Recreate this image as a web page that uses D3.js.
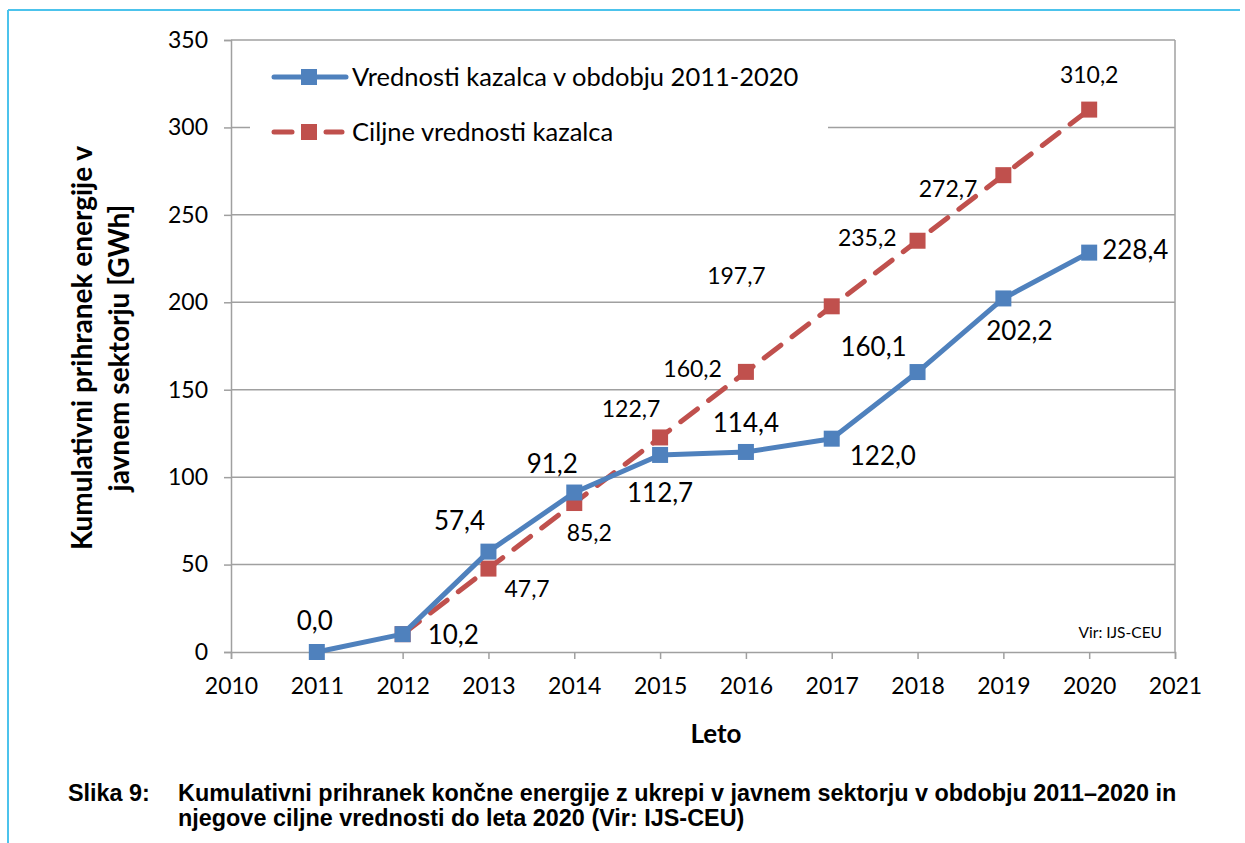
<!DOCTYPE html>
<html>
<head>
<meta charset="utf-8">
<script src="https://cdn.jsdelivr.net/npm/d3@7"></script>
<style>
  body { margin: 0; background: #fff; }
  svg { display: block; }
</style>
</head>
<body>
<svg id="chart" width="1245" height="843"></svg>
<script>
const years = [2011, 2012, 2013, 2014, 2015, 2016, 2017, 2018, 2019, 2020];
const actualValues = [0.0, 10.2, 57.4, 91.2, 112.7, 114.4, 122.0, 160.1, 202.2, 228.4];
const targetYears = [2012, 2013, 2014, 2015, 2016, 2017, 2018, 2019, 2020];
const targetValues = [10.2, 47.7, 85.2, 122.7, 160.2, 197.7, 235.2, 272.7, 310.2];
const xTicks = [2010, 2011, 2012, 2013, 2014, 2015, 2016, 2017, 2018, 2019, 2020, 2021];
const yTicks = [0, 50, 100, 150, 200, 250, 300, 350];
const seriesNames = ["Vrednosti kazalca v obdobju 2011-2020", "Ciljne vrednosti kazalca"];

// label placement (dx, dy from point, anchor)
const actualLabelPos = [
    [-2, -22, "middle"], [25, 10, "start"], [-29, -22, "middle"], [-22, -20, "middle"],
    [0, 47, "middle"], [0, -20, "middle"], [18, 26, "start"], [-44, -16, "middle"],
    [16, 42, "middle"], [13, 6, "start"]
];
const targetLabelPos = [
    null, [16, 28, "start"], [15, 38, "middle"], [-29, -20, "middle"], [-24, 5, "end"],
    [-66, -22, "end"], [-21, 5, "end"], [-26, 22, "end"], [0, -27, "middle"]
];

const blue = "#4f81bd", red = "#c0504d", grid = "#a0a0a0";
const fmt = v => v.toFixed(1).replace(".", ",");

const svg = d3.select("#chart");
const W = 1245, H = 843;
const plot = {left: 231, top: 40, right: 1175, bottom: 652};

// outer frame
svg.append("line").attr("x1", 8).attr("y1", 10).attr("x2", 1240).attr("y2", 10).attr("stroke", "#4cc3ec").attr("stroke-width", 2);
svg.append("line").attr("x1", 8).attr("y1", 10).attr("x2", 8).attr("y2", H).attr("stroke", "#4cc3ec").attr("stroke-width", 2);

const x = d3.scaleLinear().domain([2010, 2021]).range([plot.left, plot.right]);
const y = d3.scaleLinear().domain([0, 350]).range([plot.bottom, plot.top]);

// gridlines
svg.append("g").selectAll("line").data(yTicks.filter(t => t > 0)).enter().append("line")
    .attr("x1", plot.left).attr("x2", plot.right)
    .attr("y1", d => y(d)).attr("y2", d => y(d))
    .attr("stroke", grid).attr("stroke-width", 1.5);
svg.append("line").attr("x1", plot.right).attr("x2", plot.right).attr("y1", plot.top).attr("y2", plot.bottom)
    .attr("stroke", grid).attr("stroke-width", 1.5);

// axes
const yAxis = svg.append("g").attr("transform", `translate(${plot.left},0)`)
    .call(d3.axisLeft(y).tickValues(yTicks).tickSize(7).tickPadding(16).tickFormat(d3.format("d")));
const xAxis = svg.append("g").attr("transform", `translate(0,${plot.bottom})`)
    .call(d3.axisBottom(x).tickValues(xTicks).tickSize(7).tickPadding(19).tickFormat(d3.format("d")));
[xAxis, yAxis].forEach(a => {
    a.select(".domain").attr("stroke", grid).attr("stroke-width", 1.5);
    a.selectAll(".tick line").attr("stroke", grid).attr("stroke-width", 1.5);
    a.selectAll("text").attr("font-family", "Lato, sans-serif").attr("font-size", 23).attr("fill", "#000");
});

// axis titles
const titleFont = {family: "Lato, sans-serif", size: 28};
svg.append("text").attr("transform", "translate(92,348) rotate(-90)").attr("text-anchor", "middle")
    .attr("font-family", titleFont.family).attr("font-weight", "bold").attr("font-size", titleFont.size)
    .text("Kumulativni prihranek energije v");
svg.append("text").attr("transform", "translate(129,348) rotate(-90)").attr("text-anchor", "middle")
    .attr("font-family", titleFont.family).attr("font-weight", "bold").attr("font-size", titleFont.size)
    .text("javnem sektorju [GWh]");
svg.append("text").attr("x", 716).attr("y", 743).attr("text-anchor", "middle")
    .attr("font-family", titleFont.family).attr("font-weight", "bold").attr("font-size", 26)
    .text("Leto");

// legend background
svg.append("rect").attr("x", 250).attr("y", 50).attr("width", 578).attr("height", 105).attr("fill", "#fff");

const line = d3.line().x(d => x(d[0])).y(d => y(d[1]));
const targetData = targetYears.map((t, i) => [t, targetValues[i]]);
const actualData = years.map((t, i) => [t, actualValues[i]]);

// target series
svg.append("path").datum(targetData).attr("d", line).attr("fill", "none").attr("stroke", red)
    .attr("stroke-width", 5).attr("stroke-dasharray", "21,14").attr("stroke-linecap", "round");
svg.append("g").selectAll("rect").data(targetData).enter().append("rect")
    .attr("x", d => x(d[0]) - 8).attr("y", d => y(d[1]) - 8).attr("width", 16).attr("height", 16).attr("fill", red);

// actual series
svg.append("path").datum(actualData).attr("d", line).attr("fill", "none").attr("stroke", blue)
    .attr("stroke-width", 5).attr("stroke-linejoin", "round");
svg.append("g").selectAll("rect").data(actualData).enter().append("rect")
    .attr("x", d => x(d[0]) - 8).attr("y", d => y(d[1]) - 8).attr("width", 16).attr("height", 16).attr("fill", blue);

// data labels
svg.append("g").selectAll("text").data(targetData).enter()
    .filter((d, i) => targetLabelPos[i])
    .append("text")
    .attr("x", d => x(d[0]) + targetLabelPos[targetData.indexOf(d)][0])
    .attr("y", d => y(d[1]) + targetLabelPos[targetData.indexOf(d)][1])
    .attr("text-anchor", d => targetLabelPos[targetData.indexOf(d)][2])
    .attr("font-family", "Lato, sans-serif").attr("font-size", 23)
    .text(d => fmt(d[1]));
svg.append("g").selectAll("text").data(actualData).enter().append("text")
    .attr("x", (d, i) => x(d[0]) + actualLabelPos[i][0])
    .attr("y", (d, i) => y(d[1]) + actualLabelPos[i][1])
    .attr("text-anchor", (d, i) => actualLabelPos[i][2])
    .attr("font-family", "Lato, sans-serif").attr("font-size", 26)
    .text(d => fmt(d[1]));

// legend
const legend = svg.append("g");
[blue, red].forEach((c, i) => {
    const ly = 77 + i * 55;
    legend.append("line").attr("x1", 274).attr("x2", i ? 292 : 346).attr("y1", ly).attr("y2", ly)
        .attr("stroke", c).attr("stroke-width", 5).attr("stroke-linecap", "round");
    if (i) legend.append("line").attr("x1", 326).attr("x2", 342).attr("y1", ly).attr("y2", ly)
        .attr("stroke", c).attr("stroke-width", 5).attr("stroke-linecap", "round");
    legend.append("rect").attr("x", 301).attr("y", ly - 8).attr("width", 16).attr("height", 16).attr("fill", c);
    legend.append("text").attr("x", 352).attr("y", ly + 9).attr("font-family", "Lato, sans-serif")
        .attr("font-size", 25.5).text(seriesNames[i]);
});

svg.append("text").attr("x", 1162).attr("y", 638).attr("text-anchor", "end")
    .attr("font-family", "Lato, sans-serif").attr("font-size", 15.5).text("Vir: IJS-CEU");

// caption
const cap = svg.append("g").attr("font-family", "'Liberation Sans', Arial, sans-serif").attr("font-weight", "bold").attr("font-size", 23.4);
cap.append("text").attr("x", 68).attr("y", 801).text("Slika 9:");
cap.append("text").attr("x", 178).attr("y", 801).text("Kumulativni prihranek končne energije z ukrepi v javnem sektorju v obdobju 2011–2020 in");
cap.append("text").attr("x", 178).attr("y", 826).text("njegove ciljne vrednosti do leta 2020 (Vir: IJS-CEU)");
</script>
</body>
</html>
